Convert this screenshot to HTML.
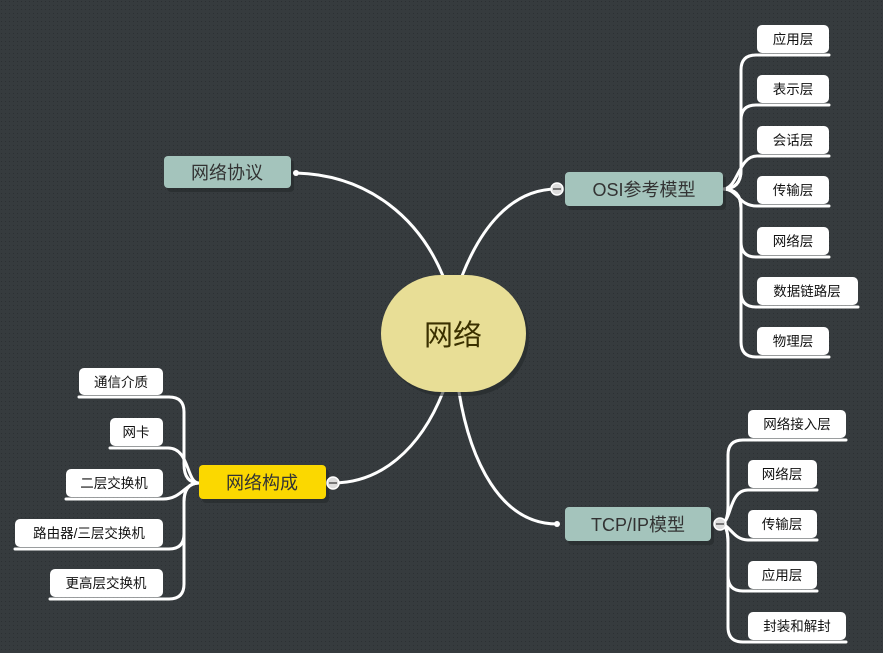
<!DOCTYPE html>
<html><head><meta charset="utf-8"><style>
html,body{margin:0;padding:0;background:#363b3e;}
svg{display:block;font-family:"Liberation Sans","Noto Sans CJK SC",sans-serif;}
</style></head><body>
<svg width="883" height="653" xmlns="http://www.w3.org/2000/svg">
<defs>
<pattern id="dots" width="4" height="4" patternUnits="userSpaceOnUse"><rect width="4" height="4" fill="#363b3e"/><rect x="1" y="1" width="1" height="1" fill="#2c3033"/></pattern>
</defs>
<rect width="883" height="653" fill="url(#dots)"/>
<g fill="none" stroke="#fff" stroke-width="3" stroke-linecap="round">
<!-- main connectors -->
<path d="M443,276 C420,220 370,175 296,173"/>
<path d="M462,276 C480,230 510,189 557,189"/>
<path d="M443,392 C420,450 380,483 333,483"/>
<path d="M459,392 C470,460 500,524 557,524"/>
<!-- OSI children -->
<path d="M723,189 Q741,189 741,170 L741,70 Q741,55 756,55 L829,55"/>
<path d="M723,189 Q741,189 741,170 L741,120 Q741,105 756,105 L829,105"/>
<path d="M723,189 C738,189 738,156 757,156 L829,156"/>
<path d="M723,189 C738,189 738,206 757,206 L829,206"/>
<path d="M723,189 Q741,189 741,208 L741,242 Q741,257 756,257 L829,257"/>
<path d="M723,189 Q741,189 741,208 L741,292 Q741,307 756,307 L858,307"/>
<path d="M723,189 Q741,189 741,208 L741,342 Q741,357 756,357 L829,357"/>
<!-- TCP children -->
<path d="M720,524 Q728,524 728,505 L728,455 Q728,440 743,440 L846,440"/>
<path d="M720,524 C732,524 728,490 748,490 L817,490"/>
<path d="M720,524 C730,524 733,540 748,540 L817,540"/>
<path d="M720,524 Q728,524 728,543 L728,576 Q728,591 743,591 L817,591"/>
<path d="M720,524 Q728,524 728,543 L728,627 Q728,642 743,642 L846,642"/>
<!-- left children -->
<path d="M199,483 Q184,483 184,464 L184,412 Q184,397 169,397 L79,397"/>
<path d="M199,483 C186,483 190,448 168,448 L110,448"/>
<path d="M199,483 C185,483 182,499 163,499 L66,499"/>
<path d="M199,483 Q184,483 184,502 L184,534 Q184,549 169,549 L15,549"/>
<path d="M199,483 Q184,483 184,502 L184,584 Q184,599 169,599 L50,599"/>
</g>
<!-- center -->
<rect x="384" y="279" width="145" height="117" rx="60" fill="#25292b" opacity="0.6"/>
<rect x="381" y="275" width="145" height="117" rx="60" fill="#e8de96"/>
<text x="453" y="345" font-size="29" text-anchor="middle" fill="#3a3000">网络</text>
<!-- main branches -->
<rect x="167" y="160" width="127" height="32" rx="4" fill="#25292b" opacity="0.6"/>
<rect x="164" y="156" width="127" height="32" rx="4" fill="#a4c4bc"/>
<text x="227" y="179" font-size="18" text-anchor="middle" fill="#333">网络协议</text>
<rect x="568" y="176" width="158" height="34" rx="4" fill="#25292b" opacity="0.6"/>
<rect x="565" y="172" width="158" height="34" rx="4" fill="#a4c4bc"/>
<text x="644" y="196" font-size="18" text-anchor="middle" fill="#333">OSI参考模型</text>
<rect x="568" y="511" width="146" height="34" rx="4" fill="#25292b" opacity="0.6"/>
<rect x="565" y="507" width="146" height="34" rx="4" fill="#a4c4bc"/>
<text x="638" y="531" font-size="18" text-anchor="middle" fill="#333">TCP/IP模型</text>
<rect x="202" y="469" width="127" height="34" rx="4" fill="#25292b" opacity="0.6"/>
<rect x="199" y="465" width="127" height="34" rx="4" fill="#fbd800"/>
<text x="262" y="489" font-size="18" text-anchor="middle" fill="#333">网络构成</text>
<!-- collapse circles -->
<circle cx="296" cy="173" r="3" fill="#fff"/>
<circle cx="557" cy="524" r="3" fill="#fff"/>
<g fill="#ddd" stroke="#fff" stroke-width="1.5">
<circle cx="557" cy="189" r="6"/><circle cx="720" cy="524" r="6"/><circle cx="333" cy="483" r="6"/>
</g>
<g stroke="#555" stroke-width="1.5">
<line x1="553" y1="189" x2="561" y2="189"/><line x1="716" y1="524" x2="724" y2="524"/><line x1="329" y1="483" x2="337" y2="483"/>
</g>
<!-- child boxes -->
<g fill="#fff">
<rect x="757" y="25" width="72" height="28" rx="5"/>
<rect x="757" y="75" width="72" height="28" rx="5"/>
<rect x="757" y="126" width="72" height="28" rx="5"/>
<rect x="757" y="176" width="72" height="28" rx="5"/>
<rect x="757" y="227" width="72" height="28" rx="5"/>
<rect x="757" y="277" width="101" height="28" rx="5"/>
<rect x="757" y="327" width="72" height="28" rx="5"/>
<rect x="748" y="410" width="98" height="28" rx="5"/>
<rect x="748" y="460" width="69" height="28" rx="5"/>
<rect x="748" y="510" width="69" height="28" rx="5"/>
<rect x="748" y="561" width="69" height="28" rx="5"/>
<rect x="748" y="612" width="98" height="28" rx="5"/>
<rect x="79" y="368" width="84" height="27" rx="5"/>
<rect x="110" y="418" width="53" height="28" rx="5"/>
<rect x="66" y="469" width="97" height="28" rx="5"/>
<rect x="15" y="519" width="148" height="28" rx="5"/>
<rect x="50" y="569" width="113" height="28" rx="5"/>
</g>
<g font-size="13.5" fill="#111" text-anchor="middle">
<text x="793" y="44">应用层</text>
<text x="793" y="94">表示层</text>
<text x="793" y="145">会话层</text>
<text x="793" y="195">传输层</text>
<text x="793" y="246">网络层</text>
<text x="807" y="296">数据链路层</text>
<text x="793" y="346">物理层</text>
<text x="797" y="429">网络接入层</text>
<text x="782" y="479">网络层</text>
<text x="782" y="529">传输层</text>
<text x="782" y="580">应用层</text>
<text x="797" y="631">封装和解封</text>
<text x="121" y="387">通信介质</text>
<text x="136" y="437">网卡</text>
<text x="114" y="488">二层交换机</text>
<text x="89" y="538">路由器/三层交换机</text>
<text x="106" y="588">更高层交换机</text>
</g>
</svg>
</body></html>
